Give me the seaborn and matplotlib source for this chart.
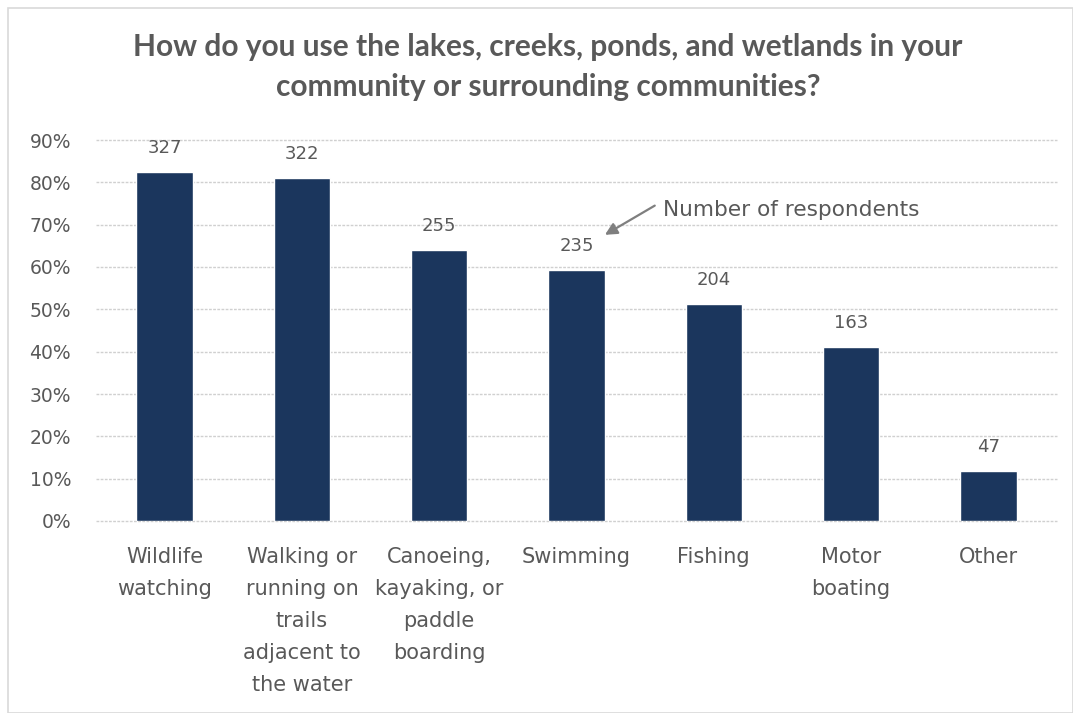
import matplotlib
matplotlib.use("Agg")
import matplotlib.pyplot as plt
from matplotlib.patches import Rectangle
from matplotlib.ticker import FuncFormatter, MultipleLocator
import seaborn as sns
import pandas as pd

# Survey results: share of respondents per activity and respondent counts
activities = [
    "Wildlife\nwatching",
    "Walking or\nrunning on\ntrails\nadjacent to\nthe water",
    "Canoeing,\nkayaking, or\npaddle\nboarding",
    "Swimming",
    "Fishing",
    "Motor\nboating",
    "Other",
]
share = [0.824, 0.810, 0.640, 0.592, 0.512, 0.411, 0.118]
respondents = [327, 322, 255, 235, 204, 163, 47]

title = ("How do you use the lakes, creeks, ponds, and wetlands in your\n"
         "community or surrounding communities?")

bar_color = "#1b365d"
text_color = "#595959"
grid_color = "#d0d0d0"

sns.set_theme(style="white")
plt.rcParams["font.family"] = ["DejaVu Sans"]

df = pd.DataFrame({"activity": activities, "share": share})

fig = plt.figure(figsize=(10.73, 7.13), dpi=100)
ax = fig.add_axes([96 / 1073, 1 - 521 / 713, (1057 - 96) / 1073, (521 - 140) / 713])

sns.barplot(data=df, x="activity", y="share", color=bar_color, width=0.41,
            saturation=1, ax=ax, zorder=3)

ax.set_ylim(0, 0.9)
ax.yaxis.set_major_locator(MultipleLocator(0.1))
ax.yaxis.set_major_formatter(FuncFormatter(lambda v, _: f"{v * 100:.0f}%"))
ax.grid(axis="y", color=grid_color, linestyle=(0, (2, 1)), linewidth=1, zorder=0)
ax.set_axisbelow(True)
for gl in ax.get_ygridlines():
    gl.set_clip_on(False)
for s in ax.spines.values():
    s.set_visible(False)
ax.set_xlabel("")
ax.set_ylabel("")
ax.tick_params(axis="y", length=0, pad=18, labelsize=13.5, labelcolor=text_color)
ax.tick_params(axis="x", length=0, pad=19, labelsize=15, labelcolor=text_color)
for lbl in ax.get_xticklabels():
    lbl.set_linespacing(1.75)

# Respondent counts above each bar
for i, (v, n) in enumerate(zip(share, respondents)):
    ax.annotate(f"{n}", xy=(i, v), xytext=(0, 11), textcoords="offset points",
                ha="center", va="bottom", fontsize=13, color=text_color)

# Callout pointing at a count label
ax.annotate("", xy=(3.207, 0.676), xytext=(3.57, 0.745),
            arrowprops=dict(arrowstyle="-|>", color="#7f7f7f", lw=1.6,
                            shrinkA=0, shrinkB=0, mutation_scale=18))
ax.text(3.63, 0.735, "Number of respondents", ha="left", va="center",
        fontsize=15.6, color=text_color)

fig.text(548 / 1073, 1 - 67 / 713, title, ha="center", va="center", fontsize=21.5,
         fontweight="bold", color=text_color, linespacing=1.5,
         family=["Lato", "DejaVu Sans"])

# Thin frame around the chart area
fig.patches.append(Rectangle((8 / 1073, 0), 1 - 8 / 1073, 1 - 8 / 713,
                             transform=fig.transFigure, fill=False,
                             edgecolor="#d9d9d9", linewidth=1.2))

fig.savefig("out.png", dpi=100, facecolor="white")
